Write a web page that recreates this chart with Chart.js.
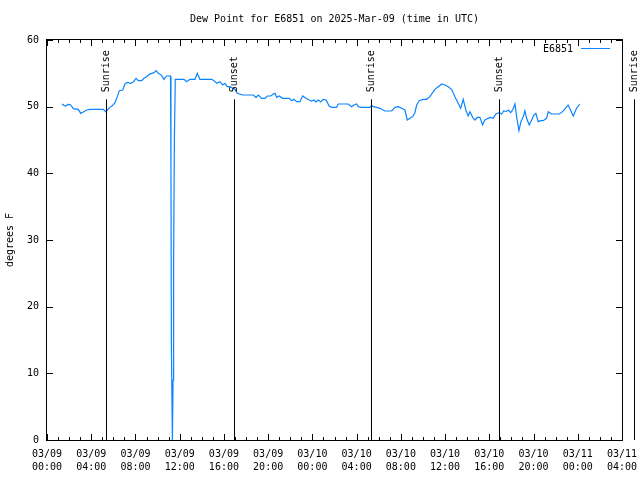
<!DOCTYPE html>
<html>
<head>
<meta charset="utf-8">
<script src="https://cdn.jsdelivr.net/npm/chart.js@4.4.1/dist/chart.umd.min.js"></script>
<style>
  html, body { margin: 0; padding: 0; background: #fff; }
  canvas { display: block; }
</style>
</head>
<body>
<canvas id="dewChart" width="640" height="480"></canvas>
<script>
// hours since 03/09 00:00 UTC
const hours = [
  1.36, 1.54, 1.72, 1.90, 2.08, 2.26, 2.38, 2.83, 3.05, 3.28, 3.59, 3.89, 5.09, 5.34, 5.45, 5.70,
  5.94, 6.15, 6.36, 6.54, 6.85, 7.05, 7.26, 7.57, 7.80, 8.05, 8.26, 8.56, 8.77, 9.01, 9.25, 9.47,
  9.68, 9.86, 10.06, 10.37, 10.58, 10.82, 11.17, 11.21, 11.25, 11.34, 11.40, 11.45, 11.52, 11.60,
  12.39, 12.63, 12.93, 13.38, 13.59, 13.83, 14.89, 15.10, 15.34, 15.64, 15.89, 16.09, 16.30, 16.55,
  16.79, 17.00, 17.21, 17.69, 18.65, 18.90, 19.11, 19.41, 19.71, 19.92, 20.23, 20.46, 20.62, 20.77,
  21.00, 21.31, 21.91, 22.13, 22.33, 22.58, 22.88, 23.12, 23.42, 23.72, 23.93, 24.14, 24.32, 24.53,
  24.75, 24.98, 25.23, 25.52, 25.74, 26.19, 26.34, 27.24, 27.55, 27.76, 28.00, 28.15, 28.45, 29.20,
  29.36, 29.50, 29.81, 30.11, 30.56, 31.17, 31.47, 31.76, 32.07, 32.37, 32.58, 32.76, 33.07, 33.27,
  33.43, 33.66, 34.02, 34.33, 34.63, 35.08, 35.38, 35.69, 35.99, 36.28, 36.59, 36.89, 37.19, 37.41,
  37.64, 37.88, 38.09, 38.25, 38.49, 38.70, 38.91, 39.15, 39.39, 39.60, 39.90, 40.12, 40.35, 40.60,
  40.90, 41.11, 41.32, 41.50, 41.71, 41.93, 42.11, 42.32, 42.47, 42.68, 42.86, 43.07, 43.22, 43.37,
  43.61, 43.83, 44.03, 44.21, 44.42, 44.64, 44.87, 45.18, 45.33, 45.63, 46.32, 46.63, 47.13, 47.59,
  47.89, 48.19
];
const dewF = [
  50.4, 50.2, 50.1, 50.35, 50.3, 50.0, 49.7, 49.6, 49.0, 49.2, 49.5, 49.6, 49.6, 49.2, 49.5, 49.9,
  50.2, 50.6, 51.5, 52.4, 52.5, 53.4, 53.65, 53.5, 53.7, 54.25, 53.9, 53.9, 54.25, 54.5, 54.85, 55.0,
  55.1, 55.4, 55.0, 54.7, 54.1, 54.6, 54.6, 41, 14, 0, 9, 27, 45, 54.1,
  54.1, 53.75, 54.1, 54.1, 55.0, 54.1, 54.1, 53.9, 53.5, 53.75, 53.25, 53.5, 53.0, 53.0,
  52.75, 52.6, 52.0, 51.75, 51.75, 51.4, 51.75, 51.25, 51.25, 51.6, 51.6, 51.9, 52.0, 51.4,
  51.6, 51.25, 51.25, 50.9, 51.1, 50.75, 50.75, 51.6, 51.25, 51.0, 50.85, 51.0, 50.7, 51.0,
  50.7, 51.1, 51.0, 50.1, 49.9, 49.9, 50.4, 50.4, 50.0, 50.25, 50.4, 50.0, 49.9, 49.9,
  50.2, 50.0, 49.9, 49.75, 49.35, 49.35, 49.9, 50.0, 49.75, 49.5, 48.0, 48.2, 48.5, 49.1,
  50.25, 50.9, 51.1, 51.1, 51.5, 52.6, 53.0, 53.4, 53.25, 53.0, 52.6, 51.5, 50.5, 49.75,
  51.1, 49.5, 48.6, 49.25, 48.4, 48.0, 48.4, 48.4, 47.25, 48.0, 48.25, 48.4, 48.25, 48.9,
  49.1, 48.9, 49.4, 49.25, 49.5, 49.1, 49.5, 50.4, 48.5, 46.4, 47.75, 48.5, 49.4, 48.25,
  47.25, 48.0, 48.75, 49.0, 47.75, 47.9, 47.9, 48.25, 49.25, 48.9, 48.9, 49.25, 50.25, 48.6,
  49.75, 50.4
];

const sunTimes = [5.33, 16.9, 29.3, 40.87, 53.07];
const sunLabels = ['Sunrise', 'Sunset', 'Sunrise', 'Sunset', 'Sunrise'];
const sunTop = 51.1;

const FONT = 'DejaVu Sans Mono';
const BLUE = '#0a84ff';

function pad(n) { return (n < 10 ? '0' : '') + n; }

// title, legend, frame, tics and sun markers
const decorations = {
    id: 'decorations',
    afterDraw(chart) {
        const { ctx, chartArea: a, scales } = chart;
        const x = scales.x, y = scales.y;
        ctx.save();
        ctx.strokeStyle = '#000';
        ctx.lineWidth = 1;

        // frame
        ctx.strokeRect(a.left - 0.5, a.top - 0.5, a.right - a.left + 1, a.bottom - a.top + 1);

        // x tics, major every 4h, minor every hour
        ctx.beginPath();
        for (let h = 0; h <= 52; h++) {
            const px = Math.round(x.getPixelForValue(h)) + 0.5;
            const len = h % 4 === 0 ? 6 : 3;
            ctx.moveTo(px, a.bottom); ctx.lineTo(px, a.bottom - len);
            ctx.moveTo(px, a.top); ctx.lineTo(px, a.top + len);
        }
        // y tics
        for (let v = 0; v <= 60; v += 10) {
            const py = Math.round(y.getPixelForValue(v)) + 0.5;
            ctx.moveTo(a.left, py); ctx.lineTo(a.left + 6, py);
            ctx.moveTo(a.right, py); ctx.lineTo(a.right - 6, py);
        }
        ctx.stroke();

        // sunrise / sunset
        ctx.font = '10px ' + FONT;
        ctx.fillStyle = '#000';
        sunTimes.forEach((t, i) => {
            const px = Math.round(x.getPixelForValue(t)) + 0.5;
            const top = y.getPixelForValue(sunTop);
            ctx.beginPath();
            ctx.moveTo(px, y.getPixelForValue(0));
            ctx.lineTo(px, top);
            ctx.stroke();
            ctx.save();
            ctx.translate(px, top - 7);
            ctx.rotate(-Math.PI / 2);
            ctx.textAlign = 'left';
            ctx.textBaseline = 'middle';
            ctx.fillText(sunLabels[i], 0, 0);
            ctx.restore();
        });

        // title
        ctx.textAlign = 'center';
        ctx.textBaseline = 'middle';
        ctx.fillText('Dew Point for E6851 on 2025-Mar-09 (time in UTC)', (a.left + a.right) / 2, 19);

        // legend
        ctx.textAlign = 'right';
        ctx.fillText('E6851', 573, 49);
        ctx.strokeStyle = BLUE;
        ctx.beginPath();
        ctx.moveTo(581, 48.5); ctx.lineTo(610, 48.5);
        ctx.stroke();
        ctx.restore();
    }
};

new Chart(document.getElementById('dewChart'), {
    type: 'line',
    data: {
        datasets: [{
            label: 'E6851',
            data: hours.map((h, i) => ({ x: h, y: dewF[i] })),
            borderColor: BLUE,
            borderWidth: 1.2,
            pointRadius: 0,
            tension: 0,
            fill: false
        }]
    },
    options: {
        responsive: false,
        animation: false,
        devicePixelRatio: 1,
        layout: { padding: { left: 0, right: 18, top: 40, bottom: 0 } },
        plugins: { legend: { display: false }, title: { display: false }, tooltip: { enabled: false } },
        scales: {
            x: {
                type: 'linear', min: 0, max: 52,
                grid: { display: false, drawTicks: false },
                border: { display: false },
                afterFit: s => { s.height = 40; s.paddingLeft = 0; s.paddingRight = 0; },
                ticks: {
                    stepSize: 4, autoSkip: false, maxRotation: 0, padding: 8,
                    color: '#000', font: { family: FONT, size: 10, lineHeight: 1.3 },
                    callback: v => ['03/' + pad(9 + Math.floor(v / 24)), pad(v % 24) + ':00']
                }
            },
            y: {
                min: 0, max: 60,
                grid: { display: false, drawTicks: false },
                border: { display: false },
                afterFit: s => { s.width = 47; s.paddingTop = 0; s.paddingBottom = 0; },
                title: { display: true, text: 'degrees F', color: '#000', font: { family: FONT, size: 10 } },
                ticks: { stepSize: 10, padding: 8, color: '#000', font: { family: FONT, size: 10 } }
            }
        }
    },
    plugins: [decorations]
});
</script>
</body>
</html>
